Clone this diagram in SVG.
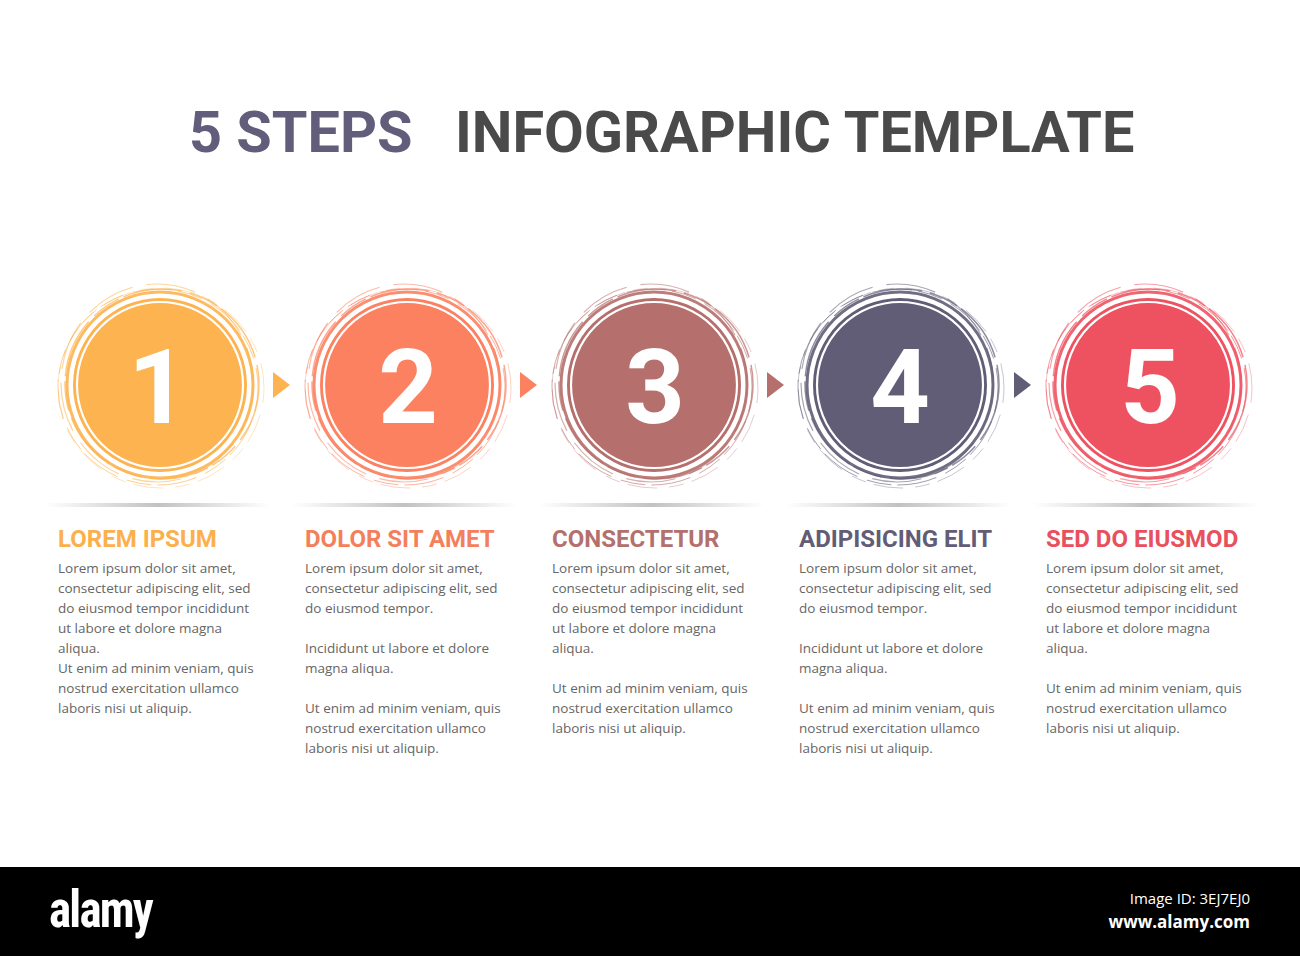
<svg xmlns="http://www.w3.org/2000/svg" xmlns:xlink="http://www.w3.org/1999/xlink" width="1300" height="956" viewBox="0 0 1300 956">
<style>
.title{font-family:Roboto,"Liberation Sans",sans-serif;font-weight:bold;font-size:57.6px}
.num{font-family:Roboto,"Liberation Sans",sans-serif;font-weight:bold;font-size:104px;fill:#fff;text-anchor:middle}
.head{font-family:Roboto,"Liberation Sans",sans-serif;font-weight:bold;font-size:24px}
.body{font-family:"Open Sans","Liberation Sans",sans-serif;font-size:13.5px;fill:#666}
.sk{fill:none;stroke:currentColor}
</style>
<defs>
<linearGradient id="shadow" x1="0" x2="1" y1="0" y2="0">
<stop offset="0" stop-color="#bbb" stop-opacity="0"/>
<stop offset="0.5" stop-color="#bbb" stop-opacity="0.9"/>
<stop offset="1" stop-color="#bbb" stop-opacity="0"/>
</linearGradient>
<g id="sketch">
<circle class="sk" cx="0" cy="0" r="93" stroke-width="3" opacity="0.9"/>
<ellipse class="sk" cx="2" cy="-1" rx="97" ry="95" stroke-width="1.5" stroke-dasharray="60 8 30 5" opacity="0.7"/>
<ellipse class="sk" cx="-2" cy="2" rx="100" ry="98" stroke-width="1" stroke-dasharray="25 10 40 6" opacity="0.6"/>
<ellipse class="sk" cx="1" cy="3" rx="103" ry="100" stroke-width="0.8" stroke-dasharray="15 12 30 8" opacity="0.45"/>
<ellipse class="sk" cx="-3" cy="-2" rx="96" ry="99" stroke-width="1.2" stroke-dasharray="50 14" opacity="0.55"/>
<circle cx="0" cy="0" r="89.5" fill="none" stroke="#fff" stroke-width="2"/>
<circle cx="0" cy="0" r="87" fill="currentColor"/>
<circle cx="0" cy="0" r="83" fill="none" stroke="#fff" stroke-width="2.2"/>
</g>
</defs>
<rect width="1300" height="956" fill="#fff"/>
<g id="title">
<text class="title" x="189" y="152" fill="#625D7A">5 STEPS</text>
<text class="title" x="455" y="152" fill="#4A4A4A">INFOGRAPHIC TEMPLATE</text>
</g>
<g id="shadows">
<rect x="45" y="503" width="225" height="4" fill="url(#shadow)"/>
<rect x="292" y="503" width="225" height="4" fill="url(#shadow)"/>
<rect x="539" y="503" width="225" height="4" fill="url(#shadow)"/>
<rect x="786" y="503" width="225" height="4" fill="url(#shadow)"/>
<rect x="1033" y="503" width="225" height="4" fill="url(#shadow)"/>
</g>
<g id="connectors">
<polygon points="273,372 290,385 273,398" fill="#FDB34F"/>
<polygon points="520,372 537,385 520,398" fill="#FB8160"/>
<polygon points="767,372 784,385 767,398" fill="#B56F6C"/>
<polygon points="1014,372 1031,385 1014,398" fill="#625D76"/>
</g>
<g id="step1">
<use xlink:href="#sketch" transform="translate(160,385)" style="color:#FDB34F"/>
<text class="num" x="158" y="423">1</text>
<text class="head" x="58" y="547" fill="#FBB04B">LOREM IPSUM</text>
<text class="body"><tspan x="58" y="573">Lorem ipsum dolor sit amet,</tspan><tspan x="58" y="593">consectetur adipiscing elit, sed</tspan><tspan x="58" y="613">do eiusmod tempor incididunt</tspan><tspan x="58" y="633">ut labore et dolore magna</tspan><tspan x="58" y="653">aliqua.</tspan><tspan x="58" y="673">Ut enim ad minim veniam, quis</tspan><tspan x="58" y="693">nostrud exercitation ullamco</tspan><tspan x="58" y="713">laboris nisi ut aliquip.</tspan></text>
</g>
<g id="step2">
<use xlink:href="#sketch" transform="translate(407,385)" style="color:#FB8160"/>
<text class="num" x="408" y="423">2</text>
<text class="head" x="305" y="547" fill="#F47F5D">DOLOR SIT AMET</text>
<text class="body"><tspan x="305" y="573">Lorem ipsum dolor sit amet,</tspan><tspan x="305" y="593">consectetur adipiscing elit, sed</tspan><tspan x="305" y="613">do eiusmod tempor.</tspan><tspan x="305" y="653">Incididunt ut labore et dolore</tspan><tspan x="305" y="673">magna aliqua.</tspan><tspan x="305" y="713">Ut enim ad minim veniam, quis</tspan><tspan x="305" y="733">nostrud exercitation ullamco</tspan><tspan x="305" y="753">laboris nisi ut aliquip.</tspan></text>
</g>
<g id="step3">
<use xlink:href="#sketch" transform="translate(654,385)" style="color:#B56F6C"/>
<text class="num" x="655" y="423">3</text>
<text class="head" x="552" y="547" fill="#B3706D">CONSECTETUR</text>
<text class="body"><tspan x="552" y="573">Lorem ipsum dolor sit amet,</tspan><tspan x="552" y="593">consectetur adipiscing elit, sed</tspan><tspan x="552" y="613">do eiusmod tempor incididunt</tspan><tspan x="552" y="633">ut labore et dolore magna</tspan><tspan x="552" y="653">aliqua.</tspan><tspan x="552" y="693">Ut enim ad minim veniam, quis</tspan><tspan x="552" y="713">nostrud exercitation ullamco</tspan><tspan x="552" y="733">laboris nisi ut aliquip.</tspan></text>
</g>
<g id="step4">
<use xlink:href="#sketch" transform="translate(900,385)" style="color:#625D76"/>
<text class="num" x="900" y="423">4</text>
<text class="head" x="799" y="547" fill="#625C77">ADIPISICING ELIT</text>
<text class="body"><tspan x="799" y="573">Lorem ipsum dolor sit amet,</tspan><tspan x="799" y="593">consectetur adipiscing elit, sed</tspan><tspan x="799" y="613">do eiusmod tempor.</tspan><tspan x="799" y="653">Incididunt ut labore et dolore</tspan><tspan x="799" y="673">magna aliqua.</tspan><tspan x="799" y="713">Ut enim ad minim veniam, quis</tspan><tspan x="799" y="733">nostrud exercitation ullamco</tspan><tspan x="799" y="753">laboris nisi ut aliquip.</tspan></text>
</g>
<g id="step5">
<use xlink:href="#sketch" transform="translate(1148,385)" style="color:#EE5260"/>
<text class="num" x="1150" y="423">5</text>
<text class="head" x="1046" y="547" fill="#E9505E">SED DO EIUSMOD</text>
<text class="body"><tspan x="1046" y="573">Lorem ipsum dolor sit amet,</tspan><tspan x="1046" y="593">consectetur adipiscing elit, sed</tspan><tspan x="1046" y="613">do eiusmod tempor incididunt</tspan><tspan x="1046" y="633">ut labore et dolore magna</tspan><tspan x="1046" y="653">aliqua.</tspan><tspan x="1046" y="693">Ut enim ad minim veniam, quis</tspan><tspan x="1046" y="713">nostrud exercitation ullamco</tspan><tspan x="1046" y="733">laboris nisi ut aliquip.</tspan></text>
</g>
<g id="footer">
<rect x="0" y="867" width="1300" height="89" fill="#000"/>
<text x="49" y="927" font-family="'Liberation Sans Narrow','Roboto Condensed',Roboto,sans-serif" font-weight="bold" font-size="52" fill="#fff" letter-spacing="-2" textLength="103" lengthAdjust="spacingAndGlyphs">alamy</text>
<text x="1250" y="904" font-family="'Open Sans','DejaVu Sans',sans-serif" font-size="15" fill="#fff" text-anchor="end">Image ID: 3EJ7EJ0</text>
<text x="1250" y="928" font-family="'Open Sans','DejaVu Sans',sans-serif" font-weight="bold" font-size="17" fill="#fff" text-anchor="end">www.alamy.com</text>
</g>
</svg>
